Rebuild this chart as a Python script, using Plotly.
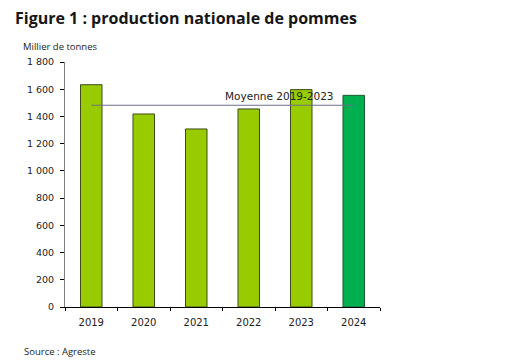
import plotly.graph_objects as go

years = ["2019", "2020", "2021", "2022", "2023", "2024"]
production = [1633, 1418, 1308, 1455, 1597, 1555]
bar_colors = ["#99CC00", "#99CC00", "#99CC00", "#99CC00", "#99CC00", "#00B050"]
line_colors = ["#3a4a1a", "#3a4a1a", "#3a4a1a", "#3a4a1a", "#3a4a1a", "#1f5a2e"]
mean_years = ["2019", "2023"]
y_ticks = [0, 200, 400, 600, 800, 1000, 1200, 1400, 1600, 1800]
y_tick_labels = ["0", "200", "400", "600", "800", "1 000", "1 200", "1 400", "1 600", "1 800"]

mean_val = sum(production[:5]) / 5

L, R, T, B = 65, 127, 62, 55
PW = 507 - L - R
PH = 362 - T - B

fig = go.Figure()
fig.add_trace(go.Bar(
    x=years, y=production,
    marker=dict(color=bar_colors, line=dict(color=line_colors, width=1)),
    showlegend=False, hoverinfo="skip",
))
fig.add_trace(go.Scatter(
    x=[years[0], years[-1]], y=[mean_val, mean_val],
    mode="lines", line=dict(color="#6E6E8C", width=1),
    showlegend=False, hoverinfo="skip",
))

boundaries = [i - 0.5 for i in range(len(years) + 1)]

fig.update_layout(
    width=507, height=362,
    margin=dict(l=L, r=R, t=T, b=B),
    paper_bgcolor="white", plot_bgcolor="white",
    bargap=0.59,
    font=dict(family="DejaVu Sans", size=10, color="#222222"),
    xaxis=dict(
        type="category", showline=True, linecolor="#000000", linewidth=1,
        ticks="outside", ticklen=3, tickcolor="#000000", tickson="boundaries",
        showgrid=False, tickfont=dict(size=10, color="#222222"),
        ticklabelstandoff=6, automargin=False,
    ),
    xaxis2=dict(
        overlaying="x", anchor="y", side="bottom", type="linear",
        range=[-0.5, len(years) - 0.5], tickvals=boundaries,
        ticks="inside", ticklen=3, tickcolor="#000000",
        showticklabels=False, showgrid=False, showline=False, zeroline=False,
        automargin=False,
    ),
    yaxis=dict(
        range=[0, 1800], tickvals=y_ticks, ticktext=y_tick_labels,
        showline=True, linecolor="#7f7f7f", linewidth=1,
        ticks="outside", ticklen=4, tickcolor="#000000",
        showgrid=False, zeroline=False, tickfont=dict(size=9.5, color="#222222"),
        ticklabelstandoff=4, automargin=False,
    ),
    yaxis2=dict(
        overlaying="y", anchor="x", side="left",
        range=[0, 1800], tickvals=y_ticks,
        ticks="inside", ticklen=4, tickcolor="#000000",
        showticklabels=False, showgrid=False, showline=False, zeroline=False,
        automargin=False,
    ),
    annotations=[
        dict(text="<b>Figure 1 : production nationale de pommes</b>",
             xref="paper", yref="paper", x=(13 - L) / PW, y=1 + (T - 5) / PH,
             xanchor="left", yanchor="top",
             font=dict(family="Open Sans", size=16, color="#161616"), showarrow=False),
        dict(text="Millier de tonnes", xref="paper", yref="paper",
             x=(21 - L) / PW, y=1 + (T - 38) / PH, xanchor="left", yanchor="top",
             font=dict(family="Open Sans", size=9.5, color="#222222"), showarrow=False),
        dict(text="Source : Agreste", xref="paper", yref="paper",
             x=(22 - L) / PW, y=-(343 - (362 - B)) / PH, xanchor="left", yanchor="top",
             font=dict(family="Open Sans", size=9.5, color="#222222"), showarrow=False),
        dict(text="Moyenne " + mean_years[0] + "-" + mean_years[1],
             x=4, y=mean_val, xref="x", yref="y", xanchor="center", yanchor="bottom",
             xshift=-22, yshift=1, showarrow=False,
             font=dict(family="DejaVu Sans", size=10.5, color="#222222")),
    ],
)

fig.write_html("out.html", post_script="document.body.style.margin='0';",
               config={"displayModeBar": False})
